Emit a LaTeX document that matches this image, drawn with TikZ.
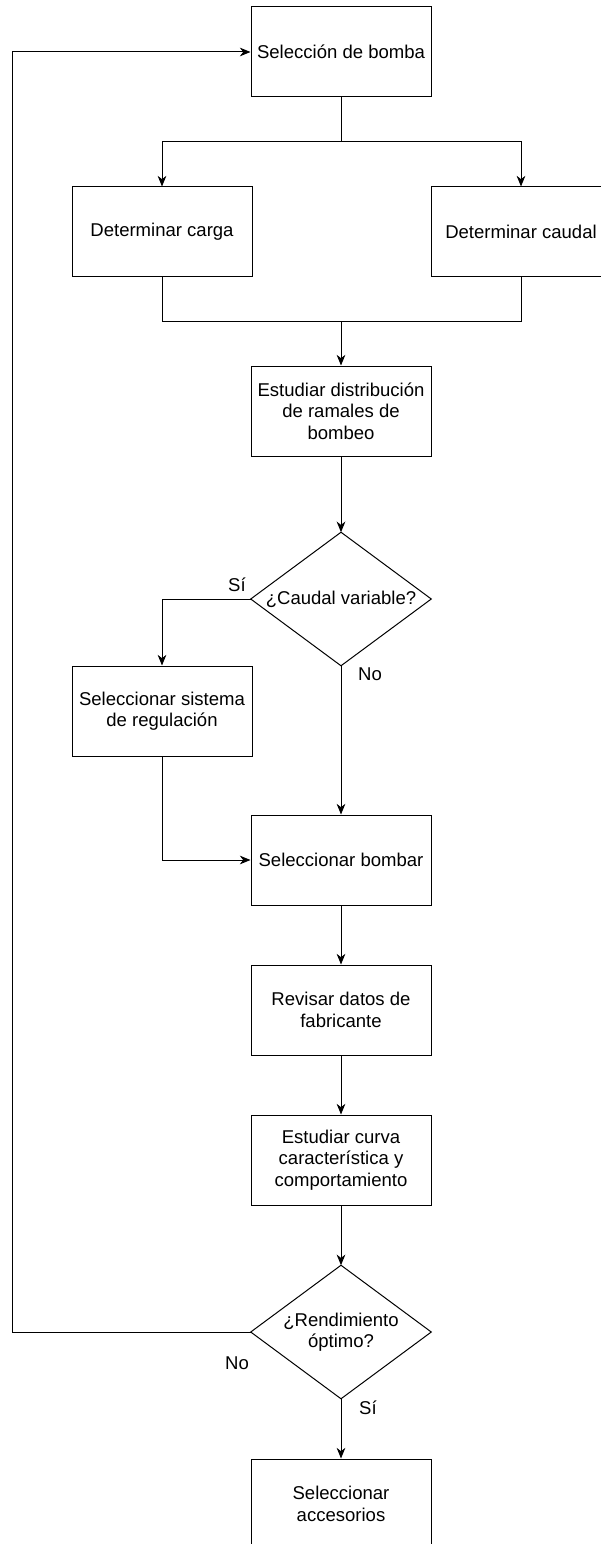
\documentclass[tikz,border=0pt]{standalone}
\usepackage{fontspec}
\setmainfont{Liberation Sans}
\usetikzlibrary{arrows.meta}

\begin{document}
\begin{tikzpicture}[x=0.75pt, y=-0.75pt,
  every node/.style={font=\fontsize{13.9}{16.1}\selectfont, align=center},
  box/.style={draw, line width=0.75pt, minimum width=135pt, minimum height=67.5pt, inner sep=0pt},
  decision/.style={minimum width=135pt, minimum height=99.75pt, inner sep=0pt},
  link/.style={line width=0.75pt},
  flow/.style={link, -{Stealth[length=8pt,width=6.5pt,inset=2.5pt]}}]
  \useasboundingbox (0,0) rectangle (600,1544);

  % steps
  \node[box] (sel)    at (341,52)   {Selección de bomba};
  \node[box] (carga)  at (162,232)  {Determinar carga};
  \node[box] (caudal) at (521,232)  {Determinar caudal};
  \node[box] (dist)   at (341,411)  {Estudiar distribución\\de ramales de\\bombeo};
  \node[decision] (var) at (341,599) {¿Caudal variable?};
  \draw[link] (var.north) -- (var.east) -- (var.south) -- (var.west) -- cycle;
  \node[box] (regul)  at (162,711)  {Seleccionar sistema\\de regulación};
  \node[box] (bombar) at (341,860)  {Seleccionar bombar};
  \node[box] (datos)  at (341,1010) {Revisar datos de\\fabricante};
  \node[box] (curva)  at (341,1160) {Estudiar curva\\característica y\\comportamiento};
  \node[decision] (rend) at (341,1332) {¿Rendimiento\\óptimo?};
  \draw[link] (rend.north) -- (rend.east) -- (rend.south) -- (rend.west) -- cycle;
  \node[box] (acc)    at (341,1504) {Seleccionar\\accesorios};

  % labels
  \node (si1) at (237,585)  {Sí};
  \node (no1) at (370,674)  {No};
  \node (no2) at (237,1363) {No};
  \node (si2) at (368,1408) {Sí};

  % connectors
  \coordinate (split) at (341,142);
  \coordinate (join)  at (341,322);
  \coordinate (loop)  at (12,1332);
  \draw[link] (sel) -- (split);
  \draw[flow] (split) -| (carga);
  \draw[flow] (split) -| (caudal);
  \draw[link] (carga) |- (join);
  \draw[link] (caudal) |- (join);
  \draw[flow] (join) -- (dist);
  \draw[flow] (dist) -- (var);
  \draw[flow] (var.west) -| (regul);
  \draw[flow] (var.south) -- (bombar);
  \draw[flow] (regul) |- (bombar);
  \draw[flow] (bombar) -- (datos);
  \draw[flow] (datos) -- (curva);
  \draw[flow] (curva) -- (rend);
  \draw[flow] (rend.south) -- (acc);
  \draw[flow] (rend.west) -- (loop) |- (sel.west);
\end{tikzpicture}
\end{document}
